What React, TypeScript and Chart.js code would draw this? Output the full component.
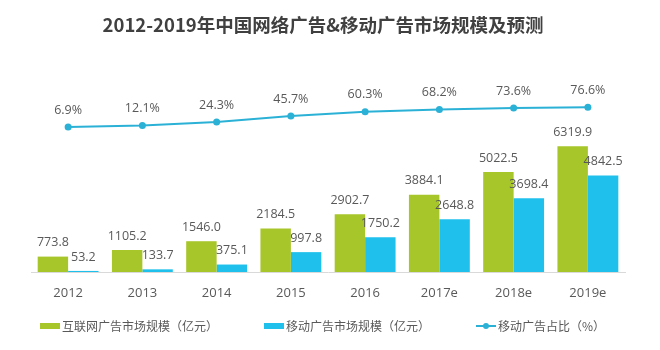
import React, { useEffect, useRef } from "react";
import { Chart, registerables } from "chart.js";

Chart.register(...registerables);

const TITLE = "2012-2019年中国网络广告&移动广告市场规模及预测";
const categories = ["2012", "2013", "2014", "2015", "2016", "2017e", "2018e", "2019e"];
const internetAd = [773.8, 1105.2, 1546.0, 2184.5, 2902.7, 3884.1, 5022.5, 6319.9];
const mobileAd = [53.2, 133.7, 375.1, 997.8, 1750.2, 2648.8, 3698.4, 4842.5];
const mobileShare = [6.9, 12.1, 24.3, 45.7, 60.3, 68.2, 73.6, 76.6];
const seriesNames = ["互联网广告市场规模（亿元）", "移动广告市场规模（亿元）", "移动广告占比（%）"];

const GREEN = "#A7C62A";
const BLUE = "#1FC1EC";
const LINE = "#2BB1D6";
const TEXT = "#595959";
const NUM_FONT = "'Open Sans', 'Noto Sans', sans-serif";
const CJK_FONT = "'Noto Sans CJK SC', sans-serif";

const labelsPlugin = {
  id: "customLabels",
  afterDatasetsDraw(chart: any) {
    const ctx = chart.ctx;
    ctx.save();
    ctx.fillStyle = TEXT;
    ctx.textAlign = "center";
    ctx.textBaseline = "middle";
    ctx.font = `12.5px ${NUM_FONT}`;
    chart.data.datasets.forEach((ds: any, di: number) => {
      const meta = chart.getDatasetMeta(di);
      meta.data.forEach((el: any, i: number) => {
        const v = ds.data[i];
        if (ds.type === "line") {
          ctx.fillText(v.toFixed(1) + "%", el.x, el.y - 17);
        } else {
          ctx.fillText(v.toFixed(1), el.x, el.y - 14);
        }
      });
    });
    ctx.restore();
  },
  afterDraw(chart: any) {
    const ctx = chart.ctx;
    ctx.save();
    // title
    ctx.fillStyle = "#404040";
    ctx.font = `bold 18.5px ${CJK_FONT}`;
    ctx.textAlign = "center";
    ctx.textBaseline = "middle";
    ctx.fillText(TITLE, 323, 25);
    // legend
    ctx.font = `12px ${CJK_FONT}`;
    ctx.textAlign = "left";
    const ly = 326;
    let x = 40;
    chart.data.datasets.forEach((ds: any) => {
      if (ds.type === "line") {
        ctx.strokeStyle = ds.borderColor;
        ctx.lineWidth = 2;
        ctx.beginPath();
        ctx.moveTo(x, ly);
        ctx.lineTo(x + 20, ly);
        ctx.stroke();
        ctx.fillStyle = ds.borderColor;
        ctx.beginPath();
        ctx.arc(x + 10, ly, 3, 0, Math.PI * 2);
        ctx.fill();
      } else {
        ctx.fillStyle = ds.backgroundColor;
        ctx.fillRect(x, ly - 3, 20, 6);
      }
      ctx.fillStyle = TEXT;
      const tx = x + 22;
      ctx.fillText(ds.label, tx, ly);
      x = tx + ctx.measureText(ds.label).width + 46;
    });
    ctx.restore();
  },
};

export default function App() {
  const ref = useRef<HTMLCanvasElement>(null);
  useEffect(() => {
    document.body.style.margin = "0";
    const chart = new Chart(ref.current as HTMLCanvasElement, {
      type: "bar",
      data: {
        labels: categories,
        datasets: [
          {
            type: "bar",
            label: seriesNames[0],
            data: internetAd,
            yAxisID: "y",
            backgroundColor: GREEN,
            categoryPercentage: 0.82,
            barPercentage: 1,
            order: 1,
          },
          {
            type: "bar",
            label: seriesNames[1],
            data: mobileAd,
            yAxisID: "y",
            backgroundColor: BLUE,
            categoryPercentage: 0.82,
            barPercentage: 1,
            order: 1,
          },
          {
            type: "line",
            label: seriesNames[2],
            data: mobileShare,
            yAxisID: "y2",
            borderColor: LINE,
            backgroundColor: LINE,
            borderWidth: 2,
            pointRadius: 3.5,
            pointBackgroundColor: LINE,
            pointBorderWidth: 0,
            tension: 0,
            order: 0,
          } as any,
        ],
      },
      options: {
        animation: false,
        responsive: false,
        layout: { padding: { top: 53, left: 31, right: 35, bottom: 0 } },
        plugins: { legend: { display: false }, tooltip: { enabled: false }, title: { display: false } },
        scales: {
          x: {
            grid: { display: false, drawTicks: false },
            border: { display: true, color: "#D9D9D9", width: 1 },
            ticks: { color: TEXT, font: { family: NUM_FONT, size: 13 }, padding: 13 },
            afterFit(scale: any) {
              scale.height = 78;
            },
          },
          y: { display: false, min: 0, max: 11000 },
          y2: { display: false, min: -500, max: 266 },
        },
      },
      plugins: [labelsPlugin],
    });
    return () => chart.destroy();
  }, []);
  return (
    <div style={{ width: 660, height: 350 }}>
      <canvas ref={ref} width={660} height={350} style={{ display: "block" }} />
    </div>
  );
}
